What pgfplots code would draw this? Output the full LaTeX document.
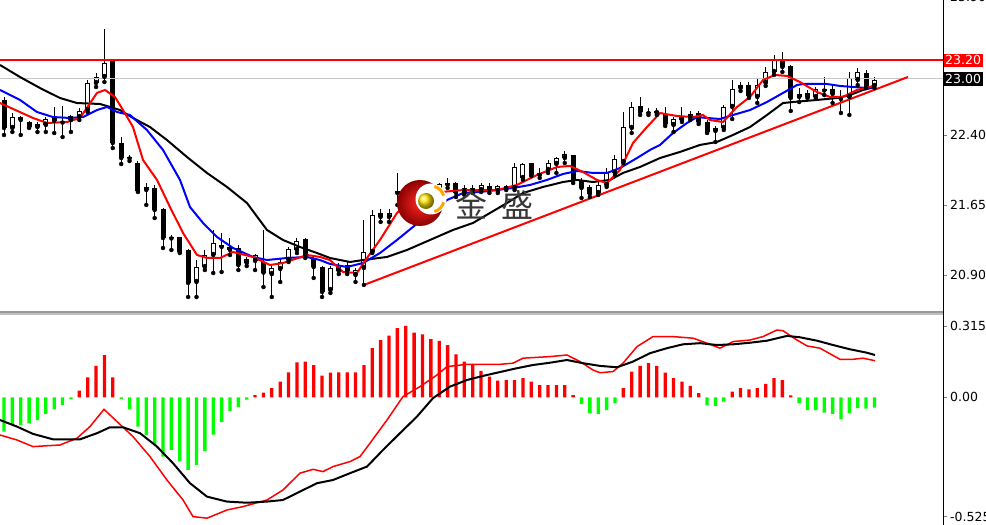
\documentclass[border=0pt]{standalone}
\usepackage{pgfplots}
\pgfplotsset{compat=1.18}
\usepackage{pgfplotstable}
\usepackage{fontspec}
\setmainfont{DejaVu Sans}
\newfontfamily\cjk{Noto Sans CJK SC}
\definecolor{mtgreen}{RGB}{0,255,0}
\definecolor{mtred}{RGB}{255,0,0}
\definecolor{mtblue}{RGB}{0,0,255}

% bearish candles (close < open): index open high low close
\pgfplotstableread{
i o h l c
0 22.775 22.807 22.400 22.475
2 22.592 22.603 22.400 22.560
3 22.539 22.550 22.475 22.485
6 22.592 22.700 22.421 22.550
7 22.539 22.710 22.378 22.533
13 23.192 23.203 22.260 22.314
14 22.314 22.378 22.089 22.153
15 22.153 22.185 22.121 22.148
16 22.100 22.121 21.789 21.800
18 21.832 21.864 21.510 21.596
19 21.607 21.617 21.189 21.296
20 21.296 21.328 21.168 21.291
21 21.307 21.307 21.135 21.146
22 21.168 21.178 20.664 20.814
26 21.221 21.350 20.932 21.200
28 21.189 21.221 20.953 21.006
31 21.039 21.382 20.771 20.925
36 21.285 21.296 21.082 21.114
37 21.071 21.114 20.868 20.985
38 20.985 20.996 20.664 20.718
41 21.007 21.039 20.910 20.943
45 21.564 21.607 21.468 21.521
47 21.800 21.993 21.650 21.778
49 21.757 21.810 21.596 21.671
51 21.789 21.885 21.703 21.768
53 21.885 21.939 21.832 21.864
54 21.885 21.896 21.735 21.778
56 21.832 21.864 21.778 21.810
58 21.853 21.885 21.778 21.821
60 21.853 21.864 21.810 21.832
63 22.100 22.100 21.961 21.971
64 21.993 22.046 21.939 21.971
68 22.185 22.185 21.885 21.918
69 21.918 21.939 21.725 21.832
70 21.843 21.864 21.735 21.768
76 22.710 22.807 22.614 22.646
77 22.646 22.689 22.614 22.635
79 22.625 22.700 22.496 22.517
83 22.635 22.657 22.517 22.539
84 22.539 22.560 22.421 22.432
89 22.935 22.968 22.796 22.818
93 23.192 23.289 23.075 23.128
94 23.139 23.150 22.657 22.796
96 22.850 22.882 22.796 22.807
98 22.882 23.021 22.828 22.876
99 22.893 22.935 22.743 22.839
100 22.817 22.882 22.635 22.785
103 23.064 23.096 22.903 22.914
}\bear

% bullish candles (close > open)
\pgfplotstableread{
i o h l c
1 22.475 22.635 22.432 22.592
4 22.485 22.539 22.432 22.517
5 22.507 22.592 22.432 22.571
8 22.560 22.614 22.432 22.603
9 22.592 22.689 22.560 22.657
10 22.667 22.989 22.646 22.957
11 22.957 23.064 22.914 23.021
12 23.021 23.535 22.967 23.171
17 21.810 21.885 21.650 21.843
23 20.825 21.061 20.664 20.985
24 20.985 21.168 20.953 21.114
25 21.114 21.382 20.921 21.243
27 21.168 21.296 21.114 21.200
29 21.028 21.093 20.996 21.071
30 21.050 21.125 20.953 21.114
32 20.910 21.007 20.664 20.975
33 20.964 21.082 20.825 21.039
34 21.061 21.200 21.039 21.178
35 21.168 21.296 21.135 21.264
39 20.739 20.996 20.707 20.975
40 20.943 21.028 20.910 20.985
42 20.900 20.975 20.825 20.953
43 20.975 21.489 20.793 21.146
44 21.146 21.596 21.135 21.543
46 21.521 21.607 21.468 21.564
48 21.703 21.864 21.650 21.789
50 21.671 21.810 21.625 21.789
52 21.789 21.885 21.778 21.875
55 21.789 21.864 21.757 21.832
57 21.810 21.885 21.789 21.864
59 21.800 21.864 21.778 21.853
61 21.832 22.100 21.810 22.057
62 21.939 22.100 21.918 22.089
65 22.025 22.132 21.993 22.100
66 22.089 22.164 21.993 22.153
67 22.153 22.228 22.100 22.196
71 21.778 21.896 21.757 21.864
72 21.864 22.046 21.843 22.003
73 21.993 22.185 21.971 22.143
74 22.110 22.646 22.100 22.485
75 22.475 22.753 22.421 22.700
78 22.635 22.689 22.614 22.657
80 22.507 22.592 22.432 22.571
81 22.560 22.700 22.539 22.592
82 22.582 22.657 22.560 22.625
85 22.443 22.496 22.325 22.475
86 22.475 22.721 22.453 22.700
87 22.700 22.989 22.571 22.893
88 22.903 22.968 22.871 22.935
90 22.807 23.000 22.743 22.935
91 22.957 23.128 22.925 23.075
92 23.075 23.257 23.043 23.203
95 22.807 22.903 22.753 22.839
97 22.807 22.914 22.796 22.893
101 22.807 23.075 22.614 23.011
102 22.989 23.118 22.935 23.075
104 22.925 23.021 22.903 22.989
}\bull

\pgfplotsset{
  candle/.style={only marks, mark=none, forget plot,
    error bars/.cd, y dir=plus, y explicit, error mark=none},
}
\tikzset{lbl/.style={font=\fontsize{12.5bp}{14bp}\selectfont}}

\begin{document}
\begin{tikzpicture}
\useasboundingbox (0bp,0bp) rectangle (986bp,525bp);

% ---------- price panel ----------
\begin{axis}[
  at={(0bp,214bp)}, anchor=south west,
  width=943bp, height=311bp, scale only axis,
  xmin=-0.478, xmax=112.19, ymin=20.514, ymax=23.846,
  axis x line=none, axis y line*=right,
  ytick={20.90,21.65,22.40}, yticklabels={20.90,21.65,22.40},
  tick align=outside, major tick length=4bp,
  yticklabel style={lbl, anchor=west, inner sep=0pt, xshift=3bp},
  clip=false,
]
% wicks
\addplot[candle, error bar style={black, line width=1bp}]
  table[x=i, y=l, y error expr=\thisrow{h}-\thisrow{l}] {\bear};
\addplot[candle, error bar style={black, line width=1bp}]
  table[x=i, y=l, y error expr=\thisrow{h}-\thisrow{l}] {\bull};
% bodies
\addplot[candle, error bar style={black, line width=5bp}]
  table[x=i, y=c, y error expr={max(\thisrow{o}-\thisrow{c},0.012)}] {\bear};
\addplot[candle, error bar style={black, line width=5bp}]
  table[x=i, y=o, y error expr={max(\thisrow{c}-\thisrow{o},0.012)}] {\bull};
\addplot[candle, error bar style={white, line width=3bp}]
  table[x=i, y expr=\thisrow{o}+0.0107, y error expr={max(\thisrow{c}-\thisrow{o}-0.0214,0)}] {\bull};

% levels
\addplot[gray!45, line width=1bp] coordinates {(-0.478,23.00) (112.19,23.00)};
\addplot[mtred, line width=2bp] coordinates {(-0.478,23.20) (112.19,23.20)};
% trend line
\addplot[mtred, line width=2bp] coordinates {(43.0,20.793) (108.0,23.021)};

% slow MA
\addplot[black, line width=2bp] coordinates {
(-0.48,23.150) (1.91,23.021) (4.30,22.903) (6.69,22.796) (8.72,22.742) (11.47,22.732)
(12.66,22.700) (13.86,22.667) (15.41,22.582) (17.44,22.485) (19.47,22.346) (21.86,22.164)
(24.25,21.993) (26.64,21.843) (29.03,21.671) (31.42,21.382) (33.33,21.275) (35.36,21.200)
(37.40,21.135) (38.95,21.082) (41.34,21.039) (42.89,21.060) (45.76,21.093) (48.15,21.168)
(50.90,21.275) (53.64,21.382) (56.03,21.457) (58.06,21.564) (60.10,21.671) (62.01,21.778)
(64.40,21.843) (66.79,21.896) (68.46,21.918) (70.37,21.896) (72.40,21.918) (73.96,21.993)
(75.99,22.057) (78.38,22.153) (80.76,22.218) (83.15,22.293) (85.18,22.325) (87.10,22.400)
(89.13,22.485) (91.16,22.614) (93.07,22.742) (94.27,22.753) (97.13,22.775) (99.52,22.796)
(101.08,22.828) (102.63,22.882) (104.06,22.914)};
% medium MA
\addplot[mtblue, line width=2bp] coordinates {
(-0.48,22.882) (1.91,22.775) (3.94,22.646) (5.85,22.592) (7.89,22.582) (9.44,22.592)
(11.11,22.667) (12.31,22.700) (13.50,22.646) (15.05,22.614) (17.08,22.453) (19.00,22.239)
(21.03,21.918) (22.22,21.628) (23.78,21.457) (25.45,21.307) (27.36,21.189) (29.75,21.093)
(31.42,21.060) (33.81,21.082) (36.20,21.093) (37.75,21.060) (38.95,21.018) (40.98,20.985)
(42.89,21.028) (44.92,21.135) (46.95,21.275) (48.86,21.414) (50.90,21.564) (52.93,21.703)
(54.84,21.778) (56.87,21.789) (58.90,21.810) (60.81,21.832) (62.84,21.864) (64.87,21.918)
(66.79,21.982) (68.46,22.014) (70.37,21.993) (72.04,21.993) (73.60,22.046) (75.63,22.153)
(77.18,22.239) (78.38,22.293) (79.93,22.421) (81.60,22.528) (82.80,22.592) (83.99,22.582)
(85.54,22.571) (87.10,22.614) (89.13,22.667) (91.16,22.753) (93.07,22.850) (94.74,22.935)
(95.46,22.946) (98.33,22.946) (99.88,22.925) (101.43,22.914) (103.11,22.903) (104.06,22.914)};
% fast MA
\addplot[mtred, line width=2bp] coordinates {
(-0.48,22.742) (3.46,22.582) (5.14,22.528) (7.53,22.539) (9.08,22.582) (11.11,22.850)
(12.07,22.882) (13.26,22.807) (14.22,22.667) (15.41,22.485) (16.61,22.132) (18.28,21.918)
(19.83,21.628) (21.39,21.350) (23.06,21.114) (24.25,21.082) (25.81,21.082) (27.36,21.146)
(29.75,21.093) (31.78,21.007) (33.33,21.028) (36.20,21.114) (37.75,21.093) (38.95,21.060)
(40.50,20.932) (42.17,20.921) (43.37,21.082) (44.92,21.275) (46.95,21.564) (48.51,21.703)
(50.90,21.778) (54.84,21.810) (58.90,21.810) (61.29,21.864) (63.68,21.971) (66.07,22.057)
(67.62,22.068) (69.18,22.003) (70.85,21.918) (72.04,21.885) (73.60,22.025) (75.15,22.314)
(76.82,22.485) (78.38,22.635) (80.41,22.603) (82.32,22.592) (83.51,22.614) (84.35,22.560)
(85.90,22.539) (87.57,22.700) (89.13,22.807) (90.68,22.989) (92.11,23.043) (93.55,23.032)
(95.10,22.967) (97.13,22.860) (98.69,22.807) (100.24,22.807) (101.91,22.882) (103.46,22.914)
(104.06,22.935)};

% price tags on the right scale
\node[lbl, fill=mtred, text=white, anchor=west, inner xsep=2bp, inner ysep=2bp]
  at (axis cs:112.19,23.20) {23.20};
\node[lbl, fill=black, text=white, anchor=west, inner xsep=2bp, inner ysep=2bp]
  at (axis cs:112.19,23.00) {23.00};
\node[lbl, anchor=west, inner sep=0pt, xshift=7bp] at (axis cs:112.19,23.88) {23.90};
\end{axis}

% ---------- MACD panel ----------
\begin{axis}[
  at={(0bp,0bp)}, anchor=south west,
  width=943bp, height=210bp, scale only axis,
  xmin=-0.478, xmax=112.19, ymin=-0.562, ymax=0.362,
  axis x line=none, axis y line*=right,
  ytick={-0.525,0,0.315}, yticklabels={-0.525,0.00,0.315},
  tick align=outside, major tick length=4bp,
  yticklabel style={lbl, anchor=west, inner sep=0pt, xshift=3bp},
  clip=false,
]
\addplot[ybar, bar width=3.3bp, bar shift=0pt, fill=mtred, draw=none] coordinates {
(9,0.029) (10,0.088) (11,0.138) (12,0.185) (13,0.088)
(30,0.010) (31,0.020) (32,0.040) (33,0.069) (34,0.110) (35,0.154) (36,0.157) (37,0.142)
(38,0.095) (39,0.108) (40,0.110) (41,0.110) (42,0.110) (43,0.142) (44,0.216) (45,0.252)
(46,0.271) (47,0.304) (48,0.314) (49,0.284) (50,0.277) (51,0.256) (52,0.248) (53,0.230)
(54,0.189) (55,0.157) (56,0.142) (57,0.116) (58,0.091) (59,0.073) (60,0.076) (61,0.076)
(62,0.084) (63,0.069) (64,0.054) (65,0.054) (66,0.054) (67,0.054) (68,0.010)
(74,0.040) (75,0.113) (76,0.138) (77,0.150) (78,0.138) (79,0.108) (80,0.084) (81,0.069)
(82,0.050) (83,0.018) (87,0.025) (88,0.040) (89,0.035) (90,0.040) (91,0.059) (92,0.084)
(93,0.076) (94,0.008)};
\addplot[ybar, bar width=3.3bp, bar shift=0pt, fill=mtgreen, draw=none] coordinates {
(0,-0.151) (1,-0.122) (2,-0.122) (3,-0.115) (4,-0.100) (5,-0.073) (6,-0.053) (7,-0.034)
(8,-0.008) (14,-0.008) (15,-0.053) (16,-0.129) (17,-0.166) (18,-0.210) (19,-0.261)
(20,-0.231) (21,-0.282) (22,-0.319) (23,-0.297) (24,-0.237) (25,-0.164) (26,-0.108)
(27,-0.060) (28,-0.042) (29,-0.010)
(69,-0.030) (70,-0.070) (71,-0.073) (72,-0.056) (73,-0.027)
(84,-0.034) (85,-0.038) (86,-0.019)
(95,-0.027) (96,-0.056) (97,-0.056) (98,-0.068) (99,-0.073) (100,-0.097) (101,-0.070)
(102,-0.048) (103,-0.050) (104,-0.046)};
% MACD line
\addplot[mtred, line width=1.5bp] coordinates {
(-0.48,-0.166) (1.55,-0.188) (3.46,-0.217) (6.69,-0.210) (8.72,-0.180) (10.27,-0.129)
(11.95,-0.053) (13.50,-0.107) (15.41,-0.173) (17.44,-0.261) (19.47,-0.364) (21.39,-0.452)
(22.58,-0.525) (24.25,-0.532) (26.64,-0.496) (28.55,-0.481) (31.42,-0.452) (33.33,-0.408)
(35.36,-0.334) (36.92,-0.317) (38.11,-0.327) (39.31,-0.305) (41.34,-0.283) (42.53,-0.261)
(43.73,-0.202) (45.76,-0.100) (47.67,0.003) (49.70,0.047) (51.73,0.098) (52.93,0.135)
(55.32,0.145) (59.26,0.145) (60.81,0.150) (62.01,0.172) (65.23,0.179) (67.26,0.186)
(68.82,0.157) (70.37,0.120) (71.21,0.108) (72.76,0.113) (73.96,0.150) (75.63,0.223)
(77.54,0.267) (79.93,0.267) (82.32,0.260) (83.99,0.238) (85.54,0.216) (87.10,0.245)
(89.13,0.252) (90.68,0.267) (92.35,0.296) (93.07,0.293) (94.74,0.252) (95.94,0.226)
(97.49,0.216) (99.88,0.167) (101.43,0.167) (102.63,0.172) (104.06,0.161)};
% signal line
\addplot[black, line width=2bp] coordinates {
(-0.48,-0.100) (1.55,-0.129) (3.46,-0.161) (5.85,-0.185) (9.08,-0.185) (11.11,-0.158)
(12.66,-0.132) (14.22,-0.132) (16.25,-0.158) (18.28,-0.217) (20.19,-0.290) (22.22,-0.378)
(24.25,-0.437) (26.64,-0.459) (29.03,-0.464) (31.42,-0.459) (33.33,-0.452) (35.36,-0.415)
(37.40,-0.378) (39.31,-0.364) (41.34,-0.334) (43.37,-0.305) (45.28,-0.232) (47.31,-0.158)
(49.34,-0.085) (51.25,-0.004) (53.29,0.047) (55.32,0.076) (57.23,0.094) (59.26,0.111)
(61.29,0.128) (63.20,0.142) (65.23,0.152) (67.26,0.164) (69.18,0.150) (71.21,0.138)
(73.24,0.132) (75.15,0.157) (77.18,0.194) (79.21,0.216) (81.12,0.233) (83.15,0.238)
(85.18,0.230) (87.10,0.233) (89.13,0.240) (91.16,0.249) (93.55,0.270) (95.10,0.264)
(97.13,0.249) (99.04,0.230) (101.08,0.211) (103.11,0.196) (104.06,0.186)};
\end{axis}

% panel separator and price scale border
\draw[gray!80, line width=1.5bp] (0bp,213bp) -- (943bp,213bp);
\draw[gray!50, line width=1.5bp] (0bp,211bp) -- (943bp,211bp);
\draw[black, line width=1bp] (943bp,0bp) -- (943bp,525bp);

% watermark logo
\shade[inner color=red!85!white, outer color=red!55!black] (420bp,322bp) circle (23bp);
\fill[white] (431bp,326bp) circle (15.5bp);
\draw[orange!70!yellow, line width=3bp] (431bp,326bp) ++(75:13bp) arc (75:15:13bp);
\draw[orange!70!yellow, line width=3bp] (431bp,326bp) ++(-15:13bp) arc (-15:-75:13bp);
\shade[ball color=yellow!80!orange] (426bp,324bp) circle (8bp);
\node[font=\cjk\fontsize{32bp}{32bp}\selectfont, text=black!78] at (471bp,320bp) {金};
\node[font=\cjk\fontsize{32bp}{32bp}\selectfont, text=black!78] at (517bp,320bp) {盛};
\end{tikzpicture}
\end{document}
